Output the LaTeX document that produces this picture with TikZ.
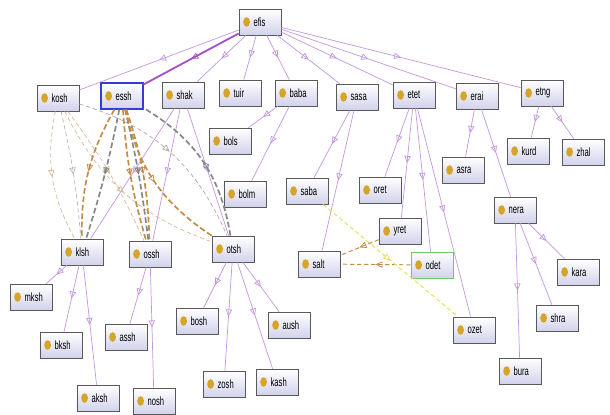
\documentclass[tikz,border=0pt]{standalone}
\usepackage{fontspec}
\setmainfont[FakeStretch=0.64]{Liberation Sans}
\usepackage{tikz}
\usetikzlibrary{positioning}
\usetikzlibrary{arrows.meta}
\usetikzlibrary{decorations.markings}
\usetikzlibrary{shadows}

\definecolor{isacol}{RGB}{196,150,222}
\definecolor{isastrong}{RGB}{165,80,205}
\definecolor{dotgold}{RGB}{212,165,40}
\definecolor{boxbot}{RGB}{210,210,236}
\definecolor{tancol}{RGB}{214,186,150}
\definecolor{browncol}{RGB}{196,140,70}
\definecolor{graycol}{RGB}{135,135,135}
\definecolor{yelcol}{RGB}{232,222,90}
\definecolor{selblue}{RGB}{50,60,215}
\definecolor{selgreen}{RGB}{110,200,110}

\tikzset{
  cls/.style={rectangle, draw=black!65, line width=0.5pt, top color=white, bottom color=boxbot,
    minimum height=0.65cm, text width=0.72cm, inner xsep=0.165cm, align=left,
    font=\fontsize{8.5}{9}\selectfont, execute at begin node={\hspace*{0.2cm}},
    path picture={\fill[dotgold] ([xshift=0.19cm]path picture bounding box.west) ellipse (0.085cm and 0.12cm);},
    drop shadow={opacity=0.25, shadow xshift=0.6pt, shadow yshift=-0.6pt}},
  midtri/.style={postaction={decorate}, decoration={markings,
    mark=at position 0.5 with {\arrow{Triangle[open, length=5pt, width=4.5pt, line width=0.5pt]}}}},
  isa/.style={draw=isacol, line width=0.5pt, midtri},
  prop/.style={dash pattern=on 3pt off 2pt, line width=0.5pt, midtri},
  propthick/.style={dash pattern=on 4pt off 2pt, line width=1.2pt, midtri},
}

\begin{document}
\begin{tikzpicture}[on grid]

    \useasboundingbox (-6.5,0.55) rectangle (8.75,-9.8);

    % top class and its children
    \node [cls] (efis) at (0,0) {efis};
    \node [cls, below left=1.9cm and 5.05cm of efis] (kosh) {kosh};
    \node [cls, below left=1.85cm and 3.45cm of efis, draw=selblue, line width=0.8pt] (essh) {essh};
    \node [cls, below left=1.825cm and 1.925cm of efis] (shak) {shak};
    \node [cls, below left=1.775cm and 0.5cm of efis] (tuir) {tuir};
    \node [cls, below right=1.775cm and 0.9cm of efis] (baba) {baba};
    \node [cls, below right=1.875cm and 2.425cm of efis] (sasa) {sasa};
    \node [cls, below right=1.825cm and 3.85cm of efis] (etet) {etet};
    \node [cls, below right=1.85cm and 5.425cm of efis] (erai) {erai};
    \node [cls, below right=1.775cm and 7.05cm of efis] (etng) {etng};

    \node [cls, below left=1.2cm and 1.65cm of baba] (bols) {bols};
    \node [cls, below left=2.525cm and 1.275cm of baba] (bolm) {bolm};

    \node [cls, below left=2.35cm and 1.25cm of sasa] (saba) {saba};
    \node [cls, below left=4.175cm and 0.95cm of sasa] (salt) {salt};

    \node [cls, below left=2.375cm and 0.85cm of etet] (oret) {oret};
    \node [cls, below left=3.4cm and 0.35cm of etet] (yret) {yret};
    \node [cls, below right=4.25cm and 0.45cm of etet, draw=selgreen, line width=0.7pt] (odet) {odet};
    \node [cls, below right=5.875cm and 1.5cm of etet] (ozet) {ozet};

    \node [cls, below left=1.85cm and 0.35cm of erai] (asra) {asra};
    \node [cls, below right=2.85cm and 0.95cm of erai] (nera) {nera};

    \node [cls, below left=1.45cm and 0.35cm of etng] (kurd) {kurd};
    \node [cls, below right=1.475cm and 1.025cm of etng] (zhal) {zhal};

    \node [cls, below right=1.55cm and 1.575cm of nera] (kara) {kara};
    \node [cls, below right=2.7cm and 1.05cm of nera] (shra) {shra};
    \node [cls, below right=4.025cm and 0.125cm of nera] (bura) {bura};

    \node [cls, below left=3.925cm and 2.525cm of shak] (klsh) {klsh};
    \node [cls, below left=3.975cm and 0.825cm of shak] (ossh) {ossh};
    \node [cls, below right=3.85cm and 1.25cm of shak] (otsh) {otsh};

    \node [cls, below left=1.125cm and 1.275cm of klsh] (mksh) {mksh};
    \node [cls, below left=2.325cm and 0.525cm of klsh] (bksh) {bksh};
    \node [cls, below right=3.65cm and 0.4cm of klsh] (aksh) {aksh};

    \node [cls, below left=2.075cm and 0.6cm of ossh] (assh) {assh};
    \node [cls, below right=3.675cm and 0.1cm of ossh] (nosh) {nosh};

    \node [cls, below left=1.8cm and 0.9cm of otsh] (bosh) {bosh};
    \node [cls, below left=3.375cm and 0.225cm of otsh] (zosh) {zosh};
    \node [cls, below right=3.325cm and 1.1cm of otsh] (kash) {kash};
    \node [cls, below right=1.9cm and 1.4cm of otsh] (aush) {aush};

    % subclass edges
    \draw [isa] (efis) -- (kosh);
    \draw [isa, draw=isastrong, line width=1.3pt] (efis) -- (essh);
    \foreach \c in {shak,tuir,baba,sasa,etet,erai,etng}
        \draw [isa] (efis) -- (\c);
    \foreach \p/\c in {baba/bols, baba/bolm, sasa/saba, sasa/salt,
                       etet/oret, etet/yret, etet/odet, etet/ozet,
                       erai/asra, erai/nera, etng/kurd, etng/zhal,
                       nera/kara, nera/shra, nera/bura,
                       shak/klsh, shak/ossh, shak/otsh,
                       klsh/mksh, klsh/bksh, klsh/aksh,
                       ossh/assh, ossh/nosh,
                       otsh/bosh, otsh/zosh, otsh/kash, otsh/aush}
        \draw [isa] (\p) -- (\c);

    % object properties
    \draw [prop, draw=tancol] (kosh) to[bend right=20] (klsh);
    \draw [prop, draw=graycol!60] (kosh) to[bend left=4] (klsh);
    \draw [prop, draw=tancol] (kosh) to[bend left=6] (ossh);
    \draw [prop, draw=graycol!70] (kosh) to[bend left=25] (otsh);
    \draw [prop, draw=tancol] (kosh) to[bend right=22] (otsh);

    \draw [propthick, draw=browncol] (essh) to[bend right=15] (klsh);
    \draw [propthick, draw=graycol] (essh) to[bend left=3] (klsh);
    \draw [propthick, draw=browncol] (essh) to[bend right=6] (ossh);
    \draw [propthick, draw=browncol] (essh) to[bend left=8] (ossh);
    \draw [propthick, draw=graycol] (essh) to[bend left=3] (ossh);
    \draw [propthick, draw=browncol] (essh) to[bend right=22] (otsh);
    \draw [propthick, draw=graycol] (otsh) to[bend right=25] (essh);

    \draw [prop, draw=browncol, line width=0.7pt] (yret) -- (salt);
    \draw [prop, draw=browncol, line width=0.7pt] (odet) -- (salt);
    \draw [prop, draw=yelcol, line width=0.7pt] (saba) -- (ozet);

\end{tikzpicture}
\end{document}
